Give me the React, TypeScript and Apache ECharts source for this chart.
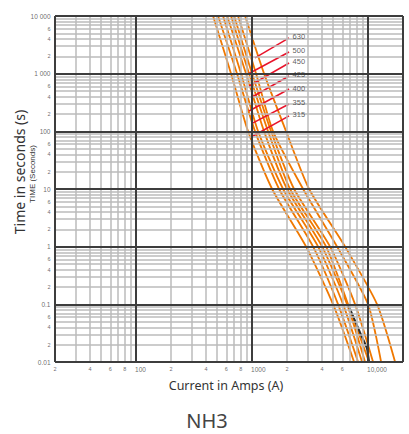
import React, { useEffect, useRef } from 'react';
import * as echarts from 'echarts';

// Time levels (s) at which each curve is read
const TIMES = [10000, 1000, 100, 10, 1, 0.1, 0.01];
// Currents (A) for each fuse curve at TIMES
const C315 = [461, 659, 924, 1488, 2921, 4993, 7574];
const C355 = [509, 742, 1061, 1709, 3357, 5512, 8200];
const C400 = [562, 804, 1127, 1850, 3707, 6088, 8877];
const C425 = [609, 888, 1269, 2003, 4012, 6592, 9421];
const C450 = [659, 942, 1374, 2126, 4345, 6725, 10200];
const C500 = [700, 1000, 1458, 2302, 4704, 7726, 11044];
const C560 = [757, 1083, 1517, 2753, 5405, 10000, 12946];
const C630 = [871, 1269, 1964, 3100, 6335, 11959, 17100];
const CURVES = [C315, C355, C400, C425, C450, C500, C560, C630];

// Dark overlay segment at the bottom
const BLACK_TIME = [0.1, 0.03, 0.0175, 0.01];
const BLACK_CURRENT = [6725, 8670, 9750, 10200];

// Rating labels with leader lines
const RATING_LABELS = ['630', '500', '450', '425', '400', '355', '315'];
const LEADER_END_CURRENT = 2084;
const LEADER_END_TIME = [4159, 2377, 1531, 912, 542, 298, 185];
const LEADER_START_CURRENT = [1061, 924, 942, 1000, 942, 1020, 1020];
const LEADER_START_TIME = [1871, 986, 611, 394, 225, 140, 83];

// Axes
const X_MIN = 20;
const X_MAX = 20000;
const Y_MIN = 0.01;
const Y_MAX = 10000;
const Y_MAJOR = [0.01, 0.1, 1, 10, 100, 1000, 10000];
const Y_MAJOR_LABELS = ['0.01', '0.1', '1', '10', '100', '1 000', '10 000'];
const Y_MINOR_LABEL_VALUES = [2000, 4000, 6000, 200, 400, 600, 20, 40, 60, 2, 4, 6, 0.2, 0.4, 0.6, 0.02, 0.04, 0.06];
const Y_MINOR_LABELS = ['2', '4', '6', '2', '4', '6', '2', '4', '6', '2', '4', '6', '2', '4', '6', '2', '4', '6'];
const X_MAJOR = [100, 1000, 10000];
const X_MAJOR_LABELS = ['100', '1000', '10,000'];
const X_MINOR_LABEL_VALUES = [20, 40, 60, 80, 200, 400, 600, 800, 2000, 4000, 6000];
const X_MINOR_LABELS = ['2', '4', '6', '8', '2', '4', '6', '8', '2', '4', '6'];
const DECADES = [0.01, 0.1, 1, 10, 100, 1000, 10000];
const MULTS = [2, 3, 4, 5, 6, 7, 8, 9];

const ORANGE = '#f07800';
const MINOR = { color: '#bbbbbb', width: 1.5, type: 'solid' };
const MAJOR = { color: '#3d3d3d', width: 2, type: 'solid' };
const TICK_FONT = 'Liberation Sans';

export default function App() {
  const ref = useRef<HTMLDivElement>(null);
  useEffect(() => {
    if (!ref.current) return;
    const chart = echarts.init(ref.current, null, { renderer: 'svg' });

    const xMinor: number[] = [];
    const yMinor: number[] = [];
    DECADES.forEach((d) => {
      MULTS.forEach((m) => {
        const v = d * m;
        if (v > X_MIN && v < X_MAX) xMinor.push(v);
        if (v > Y_MIN && v < Y_MAX) yMinor.push(v);
      });
    });
    const xMajor = [X_MIN, ...X_MAJOR, X_MAX];
    const yMajor = Y_MAJOR;

    const gridLines = [
      ...xMinor.map((v) => ({ xAxis: v, lineStyle: MINOR })),
      ...yMinor.map((v) => ({ yAxis: v, lineStyle: MINOR })),
      ...xMajor.map((v) => ({ xAxis: v, lineStyle: MAJOR })),
      ...yMajor.map((v) => ({ yAxis: v, lineStyle: MAJOR })),
    ];

    const labelSeries = (data: any[], label: any) => ({
      type: 'scatter',
      data,
      symbol: 'circle',
      symbolSize: 1,
      itemStyle: { color: 'transparent' },
      silent: true,
      clip: false,
      z: 5,
      label: { show: true, formatter: '{b}', fontFamily: TICK_FONT, color: '#444', ...label },
    });

    const series: any[] = [
      {
        type: 'line',
        data: [],
        silent: true,
        clip: false,
        z: 1,
        markLine: {
          silent: true,
          symbol: ['none', 'none'],
          label: { show: false },
          emphasis: { disabled: true },
          animation: false,
          data: gridLines,
        },
      },
      ...CURVES.map((c) => ({
        type: 'line',
        data: c.map((v, i) => [v, TIMES[i]]),
        showSymbol: false,
        smooth: 0.22,
        silent: true,
        z: 3,
        lineStyle: { color: ORANGE, width: 1.8 },
      })),
      {
        type: 'line',
        data: BLACK_CURRENT.map((v, i) => [v, BLACK_TIME[i]]),
        showSymbol: false,
        smooth: 0.2,
        silent: true,
        z: 4,
        lineStyle: { color: '#2e2e2e', width: 2 },
      },
      ...RATING_LABELS.map((_, i) => ({
        type: 'line',
        data: [
          [LEADER_START_CURRENT[i], LEADER_START_TIME[i]],
          [LEADER_END_CURRENT, LEADER_END_TIME[i]],
        ],
        showSymbol: false,
        silent: true,
        z: 4,
        lineStyle: { color: '#e8142b', width: 1.5 },
      })),
      labelSeries(
        RATING_LABELS.map((n, i) => ({ name: n, value: [LEADER_END_CURRENT, LEADER_END_TIME[i]] })),
        { position: 'right', distance: 3, offset: [0, -1], fontSize: 7.5, color: '#333' }
      ),
      labelSeries(
        Y_MAJOR.map((v, i) => ({ name: Y_MAJOR_LABELS[i], value: [X_MIN, v] })),
        { position: 'left', distance: 4, fontSize: 6.5 }
      ),
      labelSeries(
        Y_MINOR_LABEL_VALUES.map((v, i) => ({ name: Y_MINOR_LABELS[i], value: [X_MIN, v] })),
        { position: 'left', distance: 4, fontSize: 5.5 }
      ),
      labelSeries(
        X_MAJOR.map((v, i) => ({ name: X_MAJOR_LABELS[i], value: [v, Y_MIN] })),
        { position: 'bottom', distance: 3, align: 'left', offset: [-1, 0], fontSize: 6.5 }
      ),
      labelSeries(
        X_MINOR_LABEL_VALUES.map((v, i) => ({ name: X_MINOR_LABELS[i], value: [v, Y_MIN] })),
        { position: 'bottom', distance: 3, fontSize: 5.5 }
      ),
    ];

    chart.setOption({
      animation: false,
      backgroundColor: '#ffffff',
      grid: { left: 55, right: 6, top: 16, bottom: 72, containLabel: false },
      xAxis: {
        type: 'log',
        logBase: 10,
        min: X_MIN,
        max: X_MAX,
        axisLine: { show: false },
        axisTick: { show: false },
        axisLabel: { show: false },
        splitLine: { show: false },
      },
      yAxis: {
        type: 'log',
        logBase: 10,
        min: Y_MIN,
        max: Y_MAX,
        axisLine: { show: false },
        axisTick: { show: false },
        axisLabel: { show: false },
        splitLine: { show: false },
      },
      graphic: [
        {
          type: 'text',
          x: 19,
          y: 172,
          rotation: Math.PI / 2,
          style: {
            text: 'Time in seconds (s)',
            align: 'center',
            verticalAlign: 'middle',
            fontFamily: 'Noto Sans',
            fontSize: 14,
            fill: '#333',
          },
        },
        {
          type: 'text',
          x: 32,
          y: 174,
          rotation: Math.PI / 2,
          style: {
            text: 'TIME (Seconds)',
            align: 'center',
            verticalAlign: 'middle',
            fontFamily: 'Liberation Sans',
            fontSize: 8,
            fill: '#333',
          },
        },
        {
          type: 'text',
          x: 226,
          y: 385,
          style: {
            text: 'Current in Amps (A)',
            align: 'center',
            verticalAlign: 'middle',
            fontFamily: 'Noto Sans',
            fontSize: 12.5,
            fill: '#333',
          },
        },
        {
          type: 'text',
          x: 207,
          y: 420,
          style: {
            text: 'NH3',
            align: 'center',
            verticalAlign: 'middle',
            fontFamily: 'Noto Sans',
            fontSize: 20,
            fill: '#444',
          },
        },
      ],
      series,
    });
    return () => chart.dispose();
  }, []);
  return (
    <div
      ref={ref}
      style={{ position: 'absolute', left: 0, top: 0, width: 409, height: 434, background: '#fff' }}
    />
  );
}
